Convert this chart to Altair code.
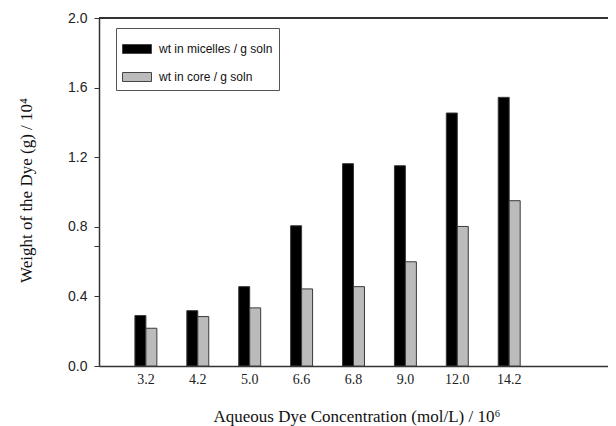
import altair as alt
import pandas as pd

categories = ["3.2", "4.2", "5.0", "6.6", "6.8", "9.0", "12.0", "14.2"]
micelles = [0.29, 0.318, 0.456, 0.806, 1.163, 1.151, 1.454, 1.544]
core = [0.217, 0.284, 0.334, 0.443, 0.456, 0.599, 0.802, 0.95]
series_names = ["wt in micelles / g soln", "wt in core / g soln"]
y_ticks = [0.0, 0.4, 0.687, 0.8, 1.2, 1.6, 2.0]

rows = []
for c, m, k in zip(categories, micelles, core):
    rows.append({"conc": c, "series": series_names[0], "value": m})
    rows.append({"conc": c, "series": series_names[1], "value": k})
df = pd.DataFrame(rows)

x_domain = categories + [" "]

bars = alt.Chart(df).mark_bar(stroke="#3a3a3a", strokeWidth=1).encode(
    x=alt.X("conc:N", sort=x_domain,
            scale=alt.Scale(domain=x_domain, paddingInner=0.577, paddingOuter=0.692),
            axis=alt.Axis(title="Aqueous Dye Concentration (mol/L) / 10⁶", labelAngle=0,
                          ticks=False, labelPadding=6,
                          titleX=114, titleY=55, titleAlign="left", titleBaseline="alphabetic",
                          labelFont="Liberation Serif", labelFontSize=14,
                          titleFont="Liberation Serif", titleFontSize=17,
                          titleFontWeight="normal", labelColor="#222", titleColor="#111",
                          domainColor="#333", domainWidth=1.5)),
    xOffset=alt.XOffset("series:N", sort=series_names,
                        scale=alt.Scale(domain=series_names, paddingInner=0, paddingOuter=0)),
    y=alt.Y("value:Q", scale=alt.Scale(domain=[0, 2.0], nice=False),
            axis=alt.Axis(title="Weight of the Dye (g) / 10⁴", values=y_ticks,
                          labelExpr="abs(datum.value*10 % 4) < 0.01 || abs(datum.value*10 % 4 - 4) < 0.01 ? format(datum.value, '.1f') : ''",
                          tickSize=5, tickColor="#333", labelPadding=7,
                          titleX=-68, titleY=172, titleAlign="center", titleBaseline="alphabetic",
                          titleAngle=270,
                          labelFont="Liberation Sans", labelFontSize=14, labelColor="#222",
                          titleFont="Liberation Serif", titleFontSize=17,
                          titleFontWeight="normal", titleColor="#111",
                          domainColor="#333", domainWidth=1.5, grid=False)),
    fill=alt.Fill("series:N", sort=series_names,
                  scale=alt.Scale(domain=series_names, range=["#000000", "#bbbbbb"]),
                  legend=alt.Legend(title=None, orient="none", legendX=17, legendY=10,
                                    symbolType="M-1,-0.31H1V0.31H-1Z", symbolSize=841,
                                    symbolStrokeColor="#444", symbolStrokeWidth=1,
                                    labelFont="Liberation Sans", labelFontSize=12,
                                    labelColor="#111", strokeColor="#555",
                                    padding=6, rowPadding=6, labelOffset=7,
                                    fillColor="white")),
)

top_line = alt.Chart(df).mark_rule(color="#333", strokeWidth=2).encode(y=alt.datum(2.0))

chart = alt.layer(bars, top_line).properties(
    width=509, height=348,
    autosize=alt.AutoSizeParams(type="none"),
    padding={"left": 91, "top": 10, "right": 0, "bottom": 60},
).configure_view(stroke=None)

chart.save("out.html", embed_options={"renderer": "svg", "actions": False})
